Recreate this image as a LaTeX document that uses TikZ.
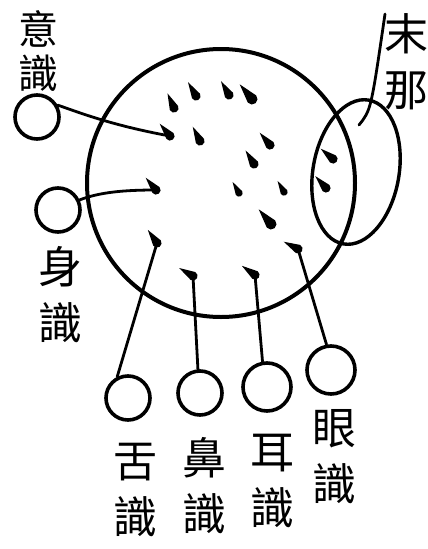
\documentclass[tikz,border=0pt]{standalone}
\usepackage{fontspec}
\newfontfamily\cjk{Noto Sans CJK TC}
\usetikzlibrary{shapes.geometric}

\begin{document}
\begin{tikzpicture}[x=1pt,y=-1pt,
  ring/.style={draw,circle,line width=3.6pt,minimum size=44,inner sep=0},
  wire/.style={line width=2.8pt,line cap=round},
  ming/.style={font=\cjk\fontsize{44}{56}\selectfont,align=center,inner sep=0},
  seed/.pic={\fill (-16,0) -- (0,4.6) arc[start angle=90,end angle=-90,radius=4.6] -- cycle;}]
  \useasboundingbox (0,0) rectangle (428,549);
  % the mind and the manas
  \node[draw,circle,line width=4pt,minimum size=268,inner sep=0] (xin) at (221,183) {};
  \node[draw,ellipse,line width=3.4pt,minimum width=86,minimum height=146,inner sep=0,rotate=-10] (mana) at (356,172) {};
  % the six senses
  \node[ring] (yi) at (37,117) {};
  \node[ring] (shen) at (58,210) {};
  \node[ring] (she) at (128,398) {};
  \node[ring] (bi) at (200,393) {};
  \node[ring,minimum size=48] (er) at (267,387) {};
  \node[ring,minimum size=48] (yan) at (331,370) {};
  \node[ming,font=\cjk\fontsize{40}{44}\selectfont] (yiLab) at (38,51) {意\\識};
  \node[ming] (manaLab) at (406,62) {末\\那};
  \node[ming] (shenLab) at (60,295) {身\\識};
  \node[ming] (sheLab) at (135,490) {舌\\識};
  \node[ming] (biLab) at (204,486) {鼻\\識};
  \node[ming] (erLab) at (272,481) {耳\\識};
  \node[ming] (yanLab) at (334,457) {眼\\識};
  \coordinate (yiEnd) at (170,136);
  \coordinate (shenEnd) at (156,190);
  \coordinate (sheEnd) at (157,243);
  \coordinate (biEnd) at (193,276);
  \coordinate (erEnd) at (255,275);
  \coordinate (yanEnd) at (298,249);
  \coordinate (manaIn) at (359,125);
  \coordinate (manaTop) at (385,14);
  \draw[wire] (yi.30) .. controls (78,112) and (110,125) .. (yiEnd);
  \draw[wire] (shen.25) .. controls (100,192) and (125,190) .. (shenEnd);
  \draw[wire] (she.117) -- (sheEnd);
  \draw[wire] (bi.95) -- (biEnd);
  \draw[wire] (er.100) -- (erEnd);
  \draw[wire] (yan.100) -- (yanEnd);
  \draw[wire] (manaIn) .. controls (371,110) .. (manaTop);
  \foreach \p/\a in {yiEnd/50,shenEnd/50,sheEnd/55,biEnd/30,erEnd/35,yanEnd/27}
    \pic[rotate=-\a] at (\p) {seed};
  % seeds
  \foreach \x/\y/\a/\s in {174/108/66/1,196/96/60/1,229/95/60/1,252/99/50/1.2,
      200/141/63/1,270/145/50/1,254/164/58/1,239/193/60/.8,284/192/60/.8,
      333/159/40/1,326/188/48/1,271/224/50/1.2}
    \pic[rotate=-\a,scale=\s] at (\x,\y) {seed};
\end{tikzpicture}
\end{document}
